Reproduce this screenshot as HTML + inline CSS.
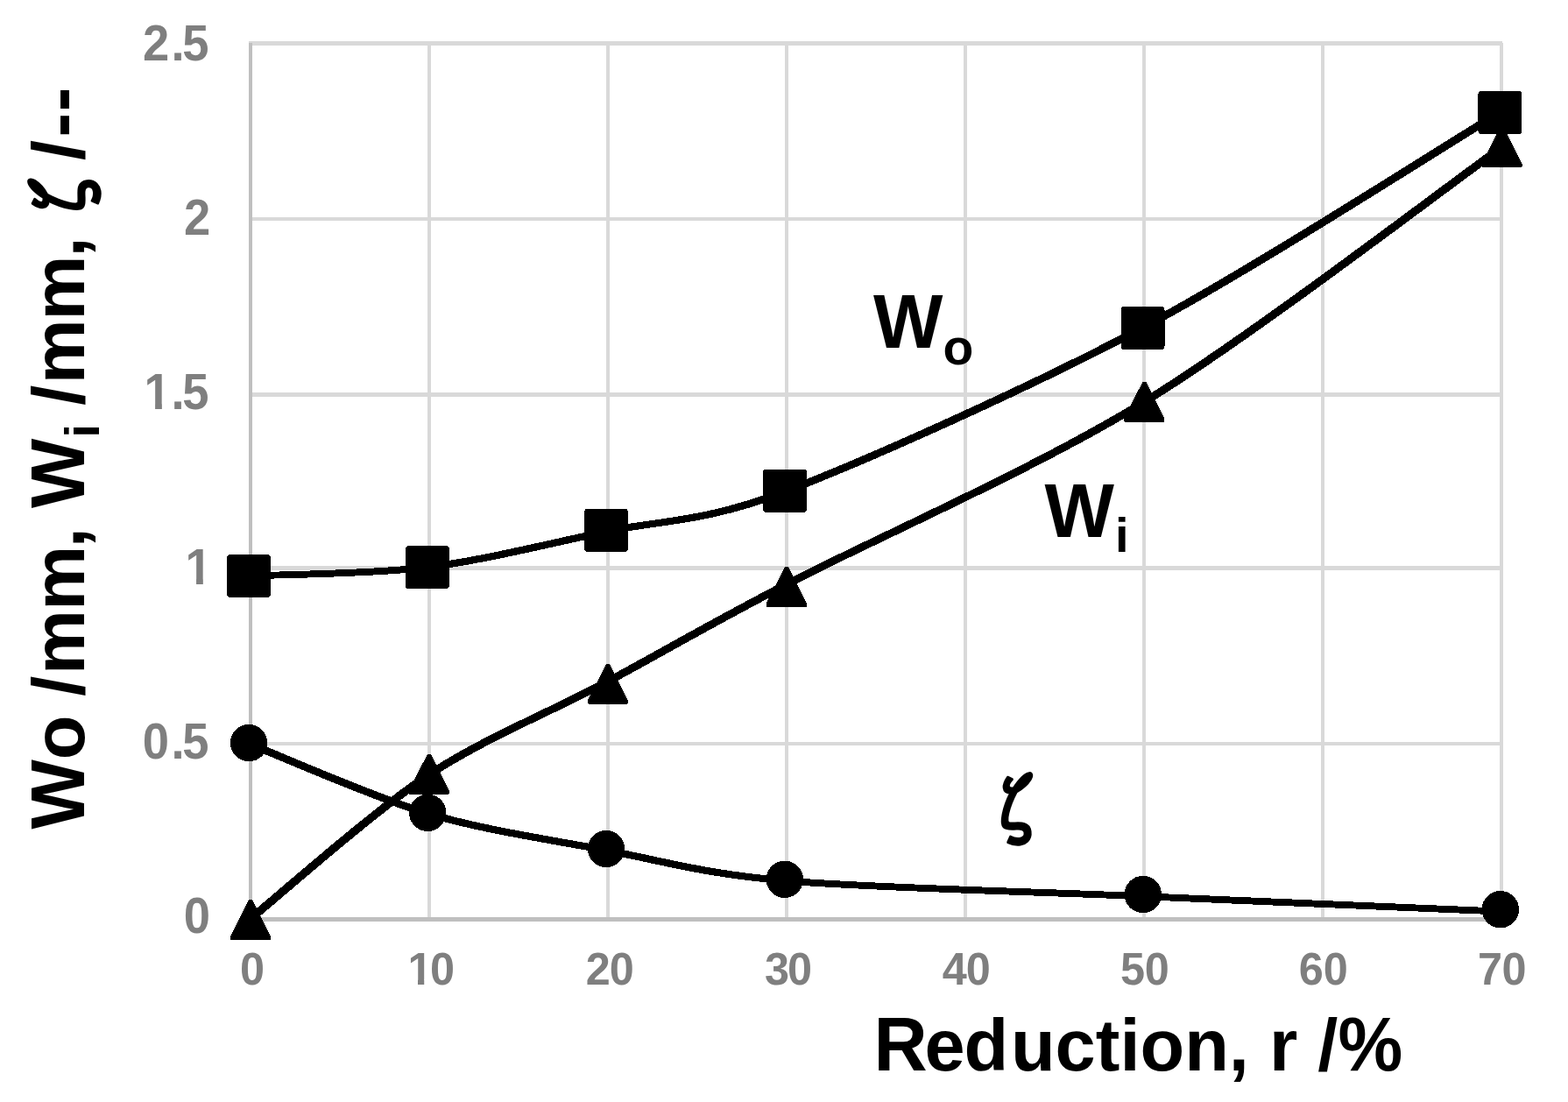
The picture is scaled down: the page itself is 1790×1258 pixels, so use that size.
<!DOCTYPE html>
<html lang="en"><head><meta charset="utf-8"><title>Wo, Wi and ζ versus reduction</title>
<style>html,body{margin:0;padding:0;background:#fff;overflow:hidden}svg{display:block}text{font-family:"Liberation Sans",sans-serif;font-weight:bold;white-space:pre}.z{font-family:"IPAGothic","Liberation Serif",serif;font-weight:normal;stroke:#000;stroke-linejoin:round}</style></head><body>
<svg width="1790" height="1258" viewBox="0 0 1790 1258">
<rect width="1790" height="1258" fill="#fff"/>
<g fill="#d9d9d9" shape-rendering="crispEdges"><rect x="488" y="49" width="4" height="1001"/><rect x="692" y="49" width="4" height="1001"/><rect x="896" y="49" width="4" height="1001"/><rect x="1100" y="49" width="4" height="1001"/><rect x="1304" y="49" width="4" height="1001"/><rect x="1508" y="49" width="4" height="1001"/><rect x="1712" y="49" width="4" height="1001"/><rect x="284" y="47" width="1431" height="5"/><rect x="284" y="248" width="1431" height="4"/><rect x="284" y="448" width="1431" height="5"/><rect x="284" y="646" width="1431" height="5"/><rect x="284" y="847" width="1431" height="4"/></g>
<g fill="#bfbfbf" shape-rendering="crispEdges"><rect x="284" y="49" width="4" height="1003"/><rect x="284" y="1047" width="1432" height="5"/></g>
<defs><clipPath id="c0"><path clip-rule="evenodd" d="M-50 -80H2000V40H-50Z M166.48 -5.57 H177.10 V2 H166.48 Z M184.86 -5.57 H194.79 V2 H184.86 Z"/></clipPath><clipPath id="c1"><path clip-rule="evenodd" d="M-50 -80H2000V40H-50Z M213.43 -5.57 H224.05 V2 H213.43 Z M231.81 -5.57 H241.74 V2 H231.81 Z"/></clipPath><clipPath id="c2"><path clip-rule="evenodd" d="M-50 -80H2000V40H-50Z M467.07 -5.76 H477.01 V2 H467.07 Z M484.23 -5.76 H493.53 V2 H484.23 Z"/></clipPath></defs>
<g fill="#7f7f7f"><text transform="translate(0 69.00) scale(1 1.059)" x="163.0 195.4 208.3" y="0" font-size="54.4">2.5</text><text transform="translate(0 267.90) scale(1 1.059)" x="210.0" y="0" font-size="54.4">2</text><text transform="translate(0 466.90) scale(1 1.059)" x="164.6 195.4 208.3" y="0" font-size="54.4" clip-path="url(#c0)">1.5</text><text transform="translate(0 666.90) scale(1 1.059)" x="211.5" y="0" font-size="54.4" clip-path="url(#c1)">1</text><text transform="translate(0 865.90) scale(1 1.059)" x="162.8 195.4 208.3" y="0" font-size="54.4">0.5</text><text transform="translate(0 1064.90) scale(1 1.059)" x="209.7" y="0" font-size="54.4">0</text><text transform="translate(0 1124.00) scale(1 1.042)" x="273.9" y="0" font-size="50.4">0</text><text transform="translate(0 1124.00) scale(1 1.042)" x="465.4 491.0" y="0" font-size="50.4" clip-path="url(#c2)">10</text><text transform="translate(0 1124.00) scale(1 1.042)" x="668.8 695.8" y="0" font-size="50.4">20</text><text transform="translate(0 1124.00) scale(1 1.042)" x="872.9 899.0" y="0" font-size="50.4">30</text><text transform="translate(0 1124.00) scale(1 1.042)" x="1075.8 1102.8" y="0" font-size="50.4">40</text><text transform="translate(0 1124.00) scale(1 1.042)" x="1279.0 1306.8" y="0" font-size="50.4">50</text><text transform="translate(0 1124.00) scale(1 1.042)" x="1482.8 1510.8" y="0" font-size="50.4">60</text><text transform="translate(0 1124.00) scale(1 1.042)" x="1686.9 1714.5" y="0" font-size="50.4">70</text></g>
<text x="997.5" y="1222" font-size="83" fill="#000"><tspan font-size="87.4" textLength="61.2" lengthAdjust="spacingAndGlyphs">R</tspan><tspan x="1055.6 1100.6 1153.9">eduction, r /</tspan><tspan font-size="87.4" textLength="73.8" lengthAdjust="spacingAndGlyphs">%</tspan></text>
<text transform="translate(96 946.4) rotate(-90)" font-size="83" fill="#000"><tspan x="0" font-size="87.4" textLength="79.4" lengthAdjust="spacingAndGlyphs">W</tspan><tspan x="79.2">o </tspan><tspan x="151.7 176.3 249.6 321.2">/mm, </tspan><tspan x="366.4" font-size="87.4" textLength="79.4" lengthAdjust="spacingAndGlyphs">W</tspan><tspan x="446.9" dy="16.7" font-size="55">i</tspan><tspan x="462" dy="-16.7"> </tspan><tspan x="483.6 508.1 580.8 653.0">/mm, </tspan><tspan class="z" rotate="-8" font-size="91.4" stroke-width="3.0" textLength="79.9" lengthAdjust="spacingAndGlyphs" x="687.8" dy="16.1">ζ</tspan><tspan x="744" dy="-16.1"> </tspan><tspan x="763.5 789.9 819.1">/--</tspan></text>
<g fill="none" stroke="#000" stroke-width="7.8" stroke-linecap="butt" stroke-linejoin="round" shape-rendering="crispEdges"><path d="M284.00 848.80 C315.38 861.08 425.23 909.86 488.00 928.60 C550.77 947.34 629.23 958.78 692.00 970.60 C754.77 982.42 801.85 997.31 896.00 1005.40 C990.15 1013.49 1178.46 1017.80 1304.00 1023.20 C1429.54 1028.60 1649.23 1037.84 1712.00 1040.50"/><path transform="translate(-1.2 0)" d="M284.00 848.80 C315.38 861.08 425.23 909.86 488.00 928.60 C550.77 947.34 629.23 958.78 692.00 970.60 C754.77 982.42 801.85 997.31 896.00 1005.40 C990.15 1013.49 1178.46 1017.80 1304.00 1023.20 C1429.54 1028.60 1649.23 1037.84 1712.00 1040.50"/><path transform="translate(1.2 0)" d="M284.00 848.80 C315.38 861.08 425.23 909.86 488.00 928.60 C550.77 947.34 629.23 958.78 692.00 970.60 C754.77 982.42 801.85 997.31 896.00 1005.40 C990.15 1013.49 1178.46 1017.80 1304.00 1023.20 C1429.54 1028.60 1649.23 1037.84 1712.00 1040.50"/></g>
<g fill="none" stroke="#000" stroke-width="7.8" stroke-linecap="butt" stroke-linejoin="round" shape-rendering="crispEdges"><path d="M284.00 1050.40 C315.38 1025.03 425.23 927.27 488.00 885.50 C550.77 843.73 629.23 812.36 692.00 778.90 C754.77 745.44 801.85 717.03 896.00 668.00 C990.15 618.97 1178.46 536.85 1304.00 460.20 C1429.54 383.55 1649.23 214.48 1712.00 169.80"/><path transform="translate(-1.2 0)" d="M284.00 1050.40 C315.38 1025.03 425.23 927.27 488.00 885.50 C550.77 843.73 629.23 812.36 692.00 778.90 C754.77 745.44 801.85 717.03 896.00 668.00 C990.15 618.97 1178.46 536.85 1304.00 460.20 C1429.54 383.55 1649.23 214.48 1712.00 169.80"/><path transform="translate(1.2 0)" d="M284.00 1050.40 C315.38 1025.03 425.23 927.27 488.00 885.50 C550.77 843.73 629.23 812.36 692.00 778.90 C754.77 745.44 801.85 717.03 896.00 668.00 C990.15 618.97 1178.46 536.85 1304.00 460.20 C1429.54 383.55 1649.23 214.48 1712.00 169.80"/></g>
<g fill="none" stroke="#000" stroke-width="7.8" stroke-linecap="butt" stroke-linejoin="round" shape-rendering="crispEdges"><path d="M284.00 657.50 C315.38 655.98 425.23 655.40 488.00 647.60 C550.77 639.80 629.23 620.09 692.00 606.80 C754.77 593.51 801.85 596.95 896.00 561.20 C990.15 525.45 1178.46 440.97 1304.00 374.40 C1429.54 307.83 1649.23 166.33 1712.00 128.50"/><path transform="translate(-1.2 0)" d="M284.00 657.50 C315.38 655.98 425.23 655.40 488.00 647.60 C550.77 639.80 629.23 620.09 692.00 606.80 C754.77 593.51 801.85 596.95 896.00 561.20 C990.15 525.45 1178.46 440.97 1304.00 374.40 C1429.54 307.83 1649.23 166.33 1712.00 128.50"/><path transform="translate(1.2 0)" d="M284.00 657.50 C315.38 655.98 425.23 655.40 488.00 647.60 C550.77 639.80 629.23 620.09 692.00 606.80 C754.77 593.51 801.85 596.95 896.00 561.20 C990.15 525.45 1178.46 440.97 1304.00 374.40 C1429.54 307.83 1649.23 166.33 1712.00 128.50"/></g>
<g fill="#000" stroke="none" shape-rendering="crispEdges"><circle cx="284.10" cy="848.10" r="21.2"/><circle cx="488.20" cy="927.80" r="21.2"/><circle cx="692.00" cy="969.00" r="21.2"/><circle cx="895.80" cy="1003.80" r="21.2"/><circle cx="1304.80" cy="1021.00" r="21.2"/><circle cx="1712.80" cy="1038.20" r="21.2"/></g>
<g fill="#000" stroke="none" shape-rendering="crispEdges"><path d="M284.0 1027.1 L288.0 1027.1 L309.1 1069.0 L309.1 1072.1 L308.1 1073.1 L263.9 1073.1 L262.9 1072.1 L262.9 1069.0 Z"/><path d="M487.8 861.0 L491.8 861.0 L512.9 902.9 L512.9 906.0 L511.9 907.0 L467.7 907.0 L466.7 906.0 L466.7 902.9 Z"/><path d="M692.0 757.8 L696.0 757.8 L717.1 799.7 L717.1 802.8 L716.1 803.8 L671.9 803.8 L670.9 802.8 L670.9 799.7 Z"/><path d="M895.9 647.0 L899.9 647.0 L921.0 688.9 L921.0 692.0 L920.0 693.0 L875.8 693.0 L874.8 692.0 L874.8 688.9 Z"/><path d="M1304.3 436.0 L1308.3 436.0 L1329.4 477.9 L1329.4 481.0 L1328.4 482.0 L1284.2 482.0 L1283.2 481.0 L1283.2 477.9 Z"/><path d="M1712.5 145.1 L1716.5 145.1 L1737.6 187.0 L1737.6 190.1 L1736.6 191.1 L1692.4 191.1 L1691.4 190.1 L1691.4 187.0 Z"/></g>
<g fill="#000" stroke="#000" stroke-width="8" stroke-linejoin="round" shape-rendering="crispEdges"><rect x="262.90" y="636.90" width="42" height="41.2"/><rect x="466.90" y="627.00" width="42" height="41.2"/><rect x="671.00" y="584.70" width="42" height="41.2"/><rect x="875.00" y="539.60" width="42" height="41.2"/><rect x="1283.50" y="353.80" width="42" height="41.2"/><rect x="1691.40" y="107.90" width="42" height="41.2"/></g>
<text x="996.9" y="397" font-size="83" fill="#000"><tspan font-size="87.4" textLength="79.4" lengthAdjust="spacingAndGlyphs">W</tspan><tspan x="1076.6" dy="18.7" font-size="57">o</tspan></text>
<text x="1192.6" y="613" font-size="83" fill="#000"><tspan font-size="87.4" textLength="79.4" lengthAdjust="spacingAndGlyphs">W</tspan><tspan x="1273.0" dy="17" font-size="56">i</tspan></text>
<text class="z" rotate="-8" font-size="91.4" stroke-width="3.0" textLength="79.9" lengthAdjust="spacingAndGlyphs" x="1124.2" y="962.1" fill="#000">ζ</text>
</svg></body></html>
